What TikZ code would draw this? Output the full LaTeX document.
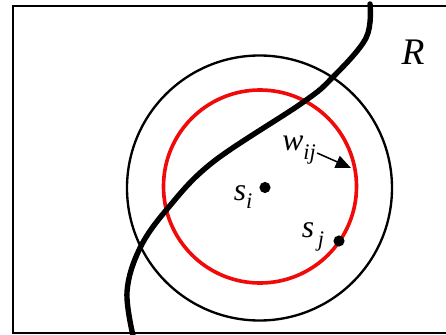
\documentclass[tikz,border=0pt]{standalone}
\usepackage{fontspec}
\setmainfont{Liberation Serif}
\usepackage{tikz}
\usetikzlibrary{arrows.meta, positioning}
\definecolor{ringred}{RGB}{240,10,10}
\newcommand{\lowidx}[1]{\raisebox{-0.6ex}{\fontsize{19}{19}\selectfont\textit{#1}}}
\tikzset{
    % frame and curve
    framebox/.style={line width=2.2pt, black},
    border/.style={line width=4.6pt, black},
    % circles
    outerring/.style={line width=2pt, black},
    innerring/.style={line width=3.1pt, ringred},
    % points and labels
    site/.style={circle, fill=black, inner sep=0pt, minimum size=9.5pt},
    lbl/.style={font=\fontsize{27}{27}\selectfont\itshape, inner sep=1pt},
    warrow/.style={-{Triangle[length=13pt, width=11pt]}, line width=1.3pt},
}
\begin{document}
\begin{tikzpicture}[x=0.03cm, y=-0.03cm]
\clip (0,0) rectangle (446,335);

% region R
\draw[framebox] (470,6) -- (13,6) -- (13,333) -- (470,333);
\node[lbl, font=\fontsize{32}{32}\selectfont\itshape] (rlbl) at (413,52) {R};

% circles round s_i
\draw[outerring] (259.5,188) circle (132.5);
\draw[innerring] (260,186.5) circle (96.5);

% boundary curve
\draw[border, line cap=round] plot[smooth, tension=0.6] coordinates
    {(370,4) (366,38) (332,78) (302,103) (213,162) (168,208) (140,248) (127,292) (134,340)};

% sites
\node[site] (si) at (265,187.5) {};
\node[site] (sj) at (339,241) {};
\node[lbl] (silbl) at (243,197) {s\lowidx{i}};
\node[lbl] (sjlbl) at (313,237) {s\lowidx{\,j}};

% weight label and arrow
\node[lbl] (wlbl) at (299,150) {w\lowidx{ij}};
\coordinate (wtip) at (351,168);
\draw[warrow] (wlbl.east) ++(0,3) -- (wtip);
\end{tikzpicture}
\end{document}
